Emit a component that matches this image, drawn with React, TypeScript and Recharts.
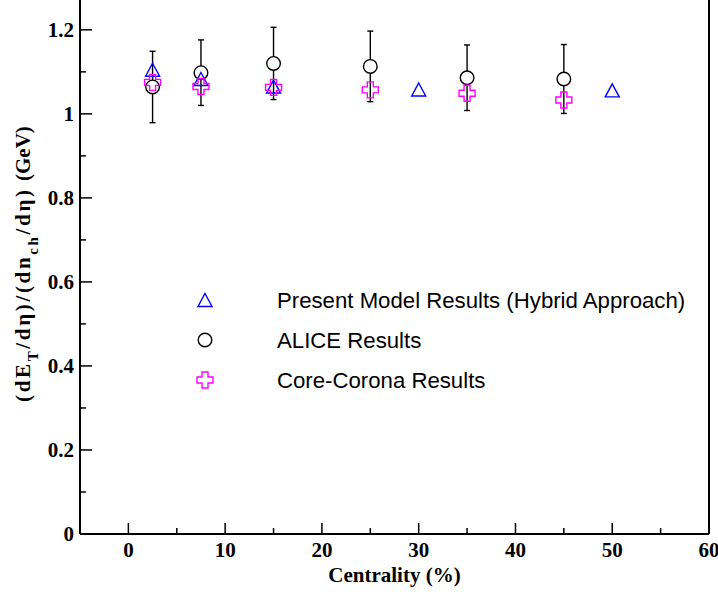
import React from 'react';
import { ScatterChart, Scatter, XAxis, YAxis, ErrorBar, ReferenceLine, Legend } from 'recharts';

const modelX = [2.5, 7.5, 15, 30, 50];
const modelY = [1.105, 1.083, 1.065, 1.058, 1.056];

const aliceX = [2.5, 7.5, 15, 25, 35, 45];
const aliceY = [1.064, 1.098, 1.12, 1.113, 1.086, 1.083];
const aliceErr = [0.085, 0.078, 0.086, 0.084, 0.078, 0.082];

const coreX = [2.5, 7.5, 15, 25, 35, 45];
const coreY = [1.075, 1.065, 1.063, 1.057, 1.049, 1.033];

const xTicks = [0, 5, 10, 15, 20, 25, 30, 35, 40, 45, 50, 55, 60];
const yTicks = [0, 0.1, 0.2, 0.3, 0.4, 0.5, 0.6, 0.7, 0.8, 0.9, 1, 1.1, 1.2];
const xMajor = [0, 10, 20, 30, 40, 50, 60];
const yMajor = [0, 0.2, 0.4, 0.6, 0.8, 1, 1.2];

const legendItems = [
  { name: 'Present Model Results (Hybrid Approach)', kind: 'triangle' },
  { name: 'ALICE Results', kind: 'circle' },
  { name: 'Core-Corona Results', kind: 'cross' },
];

const modelData = modelX.map((x, i) => ({ x, y: modelY[i] }));
const aliceData = aliceX.map((x, i) => ({ x, y: aliceY[i], err: aliceErr[i] }));
const coreData = coreX.map((x, i) => ({ x, y: coreY[i] }));

const SERIF = '"Liberation Serif", "Times New Roman", serif';
const SANS = '"Liberation Sans", Arial, sans-serif';
const BLUE = '#0000ff';
const MAGENTA = '#ff00ff';

function trianglePath(cx: number, cy: number) {
  return `M${cx},${cy - 6.5} L${cx + 7},${cy + 6.5} L${cx - 7},${cy + 6.5} Z`;
}
function crossPath(cx: number, cy: number) {
  const s = 8, a = 3;
  const pts = [
    [-a, -s], [a, -s], [a, -a], [s, -a], [s, a], [a, a],
    [a, s], [-a, s], [-a, a], [-s, a], [-s, -a], [-a, -a],
  ];
  return 'M' + pts.map(([dx, dy]) => `${cx + dx},${cy + dy}`).join(' L') + ' Z';
}

function Marker({ kind, cx, cy }: { kind: string; cx: number; cy: number }) {
  if (kind === 'triangle')
    return <path d={trianglePath(cx, cy)} fill="none" stroke={BLUE} strokeWidth={1.4} />;
  if (kind === 'circle')
    return <circle cx={cx} cy={cy} r={6.8} fill="#fff" stroke="#000" strokeWidth={1.4} />;
  return <path d={crossPath(cx, cy)} fill="none" stroke={MAGENTA} strokeWidth={1.4} />;
}

const XTick = (props: any) => {
  const { x, y, payload } = props;
  const v = payload.value;
  const major = xMajor.includes(v);
  return (
    <g>
      <line x1={x} x2={x} y1={y} y2={y - (major ? 11 : 6)} stroke="#000" strokeWidth={1.5} />
      {major && (
        <text x={x} y={y + 23} textAnchor="middle" fontFamily={SERIF} fontWeight="bold" fontSize={21} fill="#000">
          {v}
        </text>
      )}
    </g>
  );
};

const YTick = (props: any) => {
  const { x, y, payload } = props;
  const v = payload.value;
  const major = yMajor.includes(v);
  return (
    <g>
      <line x1={x} x2={x + (major ? 12 : 6)} y1={y} y2={y} stroke="#000" strokeWidth={1.5} />
      {major && (
        <text x={x - 6} y={y + 7} textAnchor="end" fontFamily={SERIF} fontWeight="bold" fontSize={21} fill="#000">
          {String(v)}
        </text>
      )}
    </g>
  );
};

const XLabel = (props: any) => {
  const { viewBox } = props;
  const cx = viewBox.x + viewBox.width / 2;
  return (
    <text x={cx} y={viewBox.y + 48} textAnchor="middle" fontFamily={SERIF} fontWeight="bold" fontSize={21} fill="#000">
      Centrality (%)
    </text>
  );
};

const YLabel = (props: any) => {
  const { viewBox } = props;
  const mid = viewBox.y + viewBox.height / 2;
  const bx = 30;
  const start = mid + 135;
  const gevStart = mid - 86;
  return (
    <g fontFamily={SERIF} fontWeight="bold" fill="#000">
      <text
        x={bx}
        y={start}
        transform={`rotate(-90, ${bx}, ${start})`}
        fontSize={21}
        textLength={212}
        lengthAdjust="spacing"
      >
        <tspan>(dE</tspan>
        <tspan fontSize={15} dy={8}>T</tspan>
        <tspan dy={-8}>/dη)/(dn</tspan>
        <tspan fontSize={15} dy={8}>ch</tspan>
        <tspan dy={-8}>/dη)</tspan>
      </text>
      <text x={bx} y={gevStart} transform={`rotate(-90, ${bx}, ${gevStart})`} fontSize={21}>
        (GeV)
      </text>
    </g>
  );
};

const LegendContent = () => (
  <svg width={520} height={120} style={{ display: 'block' }}>
    {legendItems.map((it, i) => {
      const cy = 20 + i * 40;
      return (
        <g key={it.name}>
          <Marker kind={it.kind} cx={25} cy={cy} />
          <text x={97} y={cy + 8} fontFamily={SANS} fontSize={22.2} fill="#000">
            {it.name}
          </text>
        </g>
      );
    })}
  </svg>
);

export default function App() {
  return (
    <div style={{ position: 'absolute', left: 0, top: 0, width: 718, height: 592, background: '#fff' }}>
      <ScatterChart width={718} height={592} margin={{ top: 0, right: 9, bottom: 8, left: 0 }}>
        <XAxis
          type="number"
          dataKey="x"
          domain={[-5, 60]}
          ticks={xTicks}
          interval={0}
          allowDataOverflow
          height={50}
          tickSize={0}
          tickMargin={0}
          tickLine={false}
          tick={<XTick />}
          axisLine={{ stroke: '#000', strokeWidth: 2 }}
          label={<XLabel />}
        />
        <YAxis
          type="number"
          dataKey="y"
          domain={[0, 1.271]}
          ticks={yTicks}
          interval={0}
          allowDataOverflow
          width={80}
          tickSize={0}
          tickMargin={0}
          tickLine={false}
          tick={<YTick />}
          axisLine={{ stroke: '#000', strokeWidth: 2 }}
          label={<YLabel />}
        />
        <ReferenceLine x={60} stroke="#000" strokeWidth={2} ifOverflow="visible" />
        <Legend
          layout="vertical"
          align="center"
          verticalAlign="middle"
          content={<LegendContent />}
          wrapperStyle={{ left: 180, top: 280, width: 520, height: 120 }}
        />
        <Scatter
          name="ALICE Results"
          data={aliceData}
          isAnimationActive={false}
          shape={(p: any) => <Marker kind="circle" cx={p.cx} cy={p.cy} />}
        >
          <ErrorBar dataKey="err" direction="y" width={3} stroke="#000" strokeWidth={1.4} />
        </Scatter>
        <Scatter
          name="Present Model Results (Hybrid Approach)"
          data={modelData}
          isAnimationActive={false}
          shape={(p: any) => <Marker kind="triangle" cx={p.cx} cy={p.cy} />}
        />
        <Scatter
          name="Core-Corona Results"
          data={coreData}
          isAnimationActive={false}
          shape={(p: any) => <Marker kind="cross" cx={p.cx} cy={p.cy} />}
        />
      </ScatterChart>
    </div>
  );
}
